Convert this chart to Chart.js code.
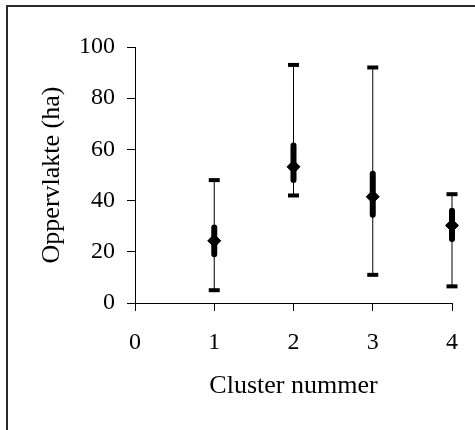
<!DOCTYPE html>
<html>
<head>
<meta charset="utf-8">
<script src="https://cdn.jsdelivr.net/npm/chart.js@4/dist/chart.umd.min.js"></script>
<style>
  html, body { margin: 0; padding: 0; background: #fff; }
  #wrap { position: relative; width: 475px; height: 430px; overflow: hidden; }
  #frame { position: absolute; left: 6px; top: 5px; width: 480px; height: 440px; border: 2px solid #2a2a2a; }
  #chart { position: absolute; left: 0; top: 0; }
</style>
</head>
<body>
<div id="wrap">
  <div id="frame"></div>
  <canvas id="chart" width="475" height="430"></canvas>
</div>
<script>
// cluster data (ha)
const clusters = [1, 2, 3, 4];
const minVals = [5, 42, 11, 6.5];
const maxVals = [48, 93, 92, 42.5];
const lowVals = [19, 48, 34.5, 25];
const highVals = [29.5, 61.5, 50.5, 36];
const meanVals = [24.3, 53.2, 41.5, 30.3];

const xTicks = [0, 1, 2, 3, 4];
const yTicks = [0, 20, 40, 60, 80, 100];

const FONT = 'Liberation Serif, Times New Roman, serif';

// build segments with null gaps between clusters
function segments(lo, hi) {
  const out = [];
  clusters.forEach((c, i) => {
    out.push({ x: c, y: lo[i] }, { x: c, y: hi[i] }, { x: c, y: null });
  });
  return out;
}

const whiskers = segments(minVals, maxVals);
const inner = segments(lowVals, highVals);
const caps = clusters.flatMap((c, i) => [{ x: c, y: minVals[i] }, { x: c, y: maxVals[i] }]);
const means = clusters.map((c, i) => ({ x: c, y: meanVals[i] }));

new Chart(document.getElementById('chart'), {
  type: 'scatter',
  data: {
    datasets: [
      {
        type: 'line', data: whiskers, borderColor: '#000', borderWidth: 1,
        pointRadius: 0, spanGaps: false, fill: false, clip: false
      },
      {
        type: 'line', data: inner, borderColor: '#000', borderWidth: 6,
        borderCapStyle: 'round', pointRadius: 0, spanGaps: false, fill: false, clip: false
      },
      {
        data: caps, pointStyle: 'line', pointRadius: 5.5, borderColor: '#000',
        borderWidth: 4, backgroundColor: '#000', clip: false
      },
      {
        data: means, pointStyle: 'rectRot', pointRadius: 6.5, borderColor: '#000',
        borderWidth: 1, backgroundColor: '#000', clip: false
      }
    ]
  },
  options: {
    responsive: false,
    animation: false,
    layout: { padding: { top: 47, right: 22, left: 0, bottom: 0 } },
    plugins: { legend: { display: false }, tooltip: { enabled: false } },
    scales: {
      x: {
        type: 'linear', min: 0, max: 4,
        afterBuildTicks: (s) => { s.ticks = xTicks.map(v => ({ value: v })); },
        afterFit: (s) => { s.height = 127; },
        grid: { drawOnChartArea: false, tickLength: 8, color: '#000' },
        border: { color: '#000', width: 1 },
        ticks: { color: '#000', padding: 17, font: { family: FONT, size: 24 } },
        title: {
          display: true, text: 'Cluster nummer', color: '#000',
          padding: { top: 0, bottom: 28 }, font: { family: FONT, size: 26 }
        }
      },
      y: {
        min: 0, max: 100,
        afterBuildTicks: (s) => { s.ticks = yTicks.map(v => ({ value: v })); },
        afterFit: (s) => { s.width = 135; },
        grid: { drawOnChartArea: false, tickLength: 8, color: '#000' },
        border: { color: '#000', width: 1 },
        ticks: { color: '#000', padding: 12, font: { family: FONT, size: 24 } },
        title: {
          display: true, text: 'Oppervlakte (ha)', color: '#000',
          padding: { top: 37, bottom: 0 }, font: { family: FONT, size: 26 }
        }
      }
    }
  }
});
</script>
</body>
</html>
